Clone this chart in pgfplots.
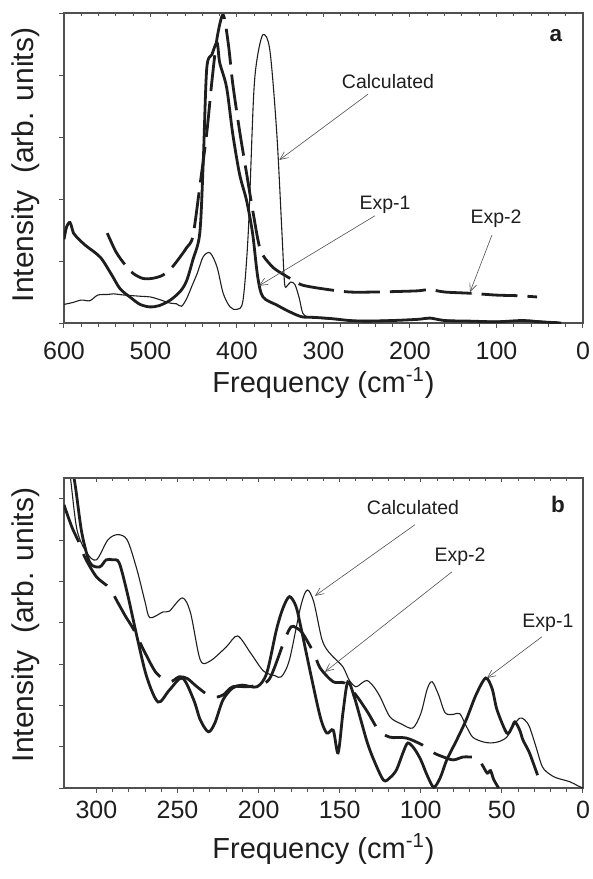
\documentclass[border=0pt]{standalone}
\usepackage{fontspec}
\setmainfont{Liberation Sans}
\usepackage{pgfplots}
\pgfplotsset{compat=1.18}
\usetikzlibrary{arrows.meta}
\definecolor{ink}{HTML}{1E1E1E}
\definecolor{axc}{HTML}{505050}
\pgfplotsset{
 panel/.style={scale only axis, width=259.5pt, height=155pt, x dir=reverse, ymin=0,
   axis line style={axc, line width=0.55pt}, tick style={axc, line width=0.5pt},
   tick align=outside, xtick pos=bottom, ytick pos=left, yticklabels={},
   major tick length=2.4pt, minor tick length=1.8pt,
   /pgf/number format/assume math mode=true,
   xticklabel style={font=\fontsize{12.5}{14}\selectfont, anchor=base, text=ink},
   clip=true},
 topticks/.style={scale only axis, width=259.5pt, height=155pt, x dir=reverse, ymin=0,
   axis x line*=top, hide y axis, tick align=inside, xticklabels={},
   axis line style={axc, line width=0.55pt}, tick style={axc, line width=0.5pt},
   major tick length=2pt, minor tick length=1.6pt},
 calc/.style={ink, line width=0.55pt, smooth, no markers},
 expa/.style={ink, line width=1.4pt, smooth, no markers},
 expb/.style={ink, line width=1.4pt, smooth, no markers},
}
\tikzset{
 ann/.style={font=\fontsize{9.75}{11}\selectfont, inner sep=0pt, text=ink},
 arr/.style={axc, line width=0.3pt, -{Straight Barb[length=4pt,width=3.6pt,line width=0.3pt]}},
}
\begin{document}
\begin{tikzpicture}
% ---------------- panel a ----------------
\begin{axis}[panel, at={(32pt,-161.5pt)}, anchor=south west,
  xmin=0, xmax=600, ymax=5, xtick={0,100,...,600}, minor x tick num=4,
  ytick={0,1,...,5}, xticklabel style={yshift=-16pt}]
\addplot[calc] coordinates {
(600,0.30) (590,0.33) (580,0.37) (570,0.36) (561,0.45) (550,0.46) (543,0.47)
(530,0.45) (520,0.44) (510,0.43) (500,0.42) (490,0.38) (477,0.32) (470,0.31)
(464,0.27) (458,0.40) (452,0.60) (446,0.80) (439,1.07) (431,1.13) (423,0.90)
(416,0.48) (408,0.26) (400,0.22) (393,0.37) (387,1.45) (381,3.6) (377,4.24)
(370,4.65) (362,4.4) (354,3.06) (348,1.45) (345,0.64) (342,0.60) (338,0.66)
(333,0.62) (328,0.40) (324,0.16) (318,0.10) (300,0.07) (280,0.05) (250,0.04)
(220,0.05) (190,0.06) (175,0.07) (150,0.04) (120,0.03) (90,0.03) (60,0.04) (40,0.02) (30,0.02)};
\addplot[expa] coordinates {
(600,1.35) (597,1.55) (593,1.62) (589,1.45) (585,1.38) (575,1.25) (558,1.06)
(545,0.78) (535,0.55) (522,0.40) (512,0.30) (501,0.26) (490,0.28) (477,0.37)
(465,0.52) (458,0.69) (451,1.02) (443,1.45) (439,2.6) (435,4.1) (429,4.33)
(423,4.52) (420,4.2) (412,3.8) (405,3.06) (397,2.4) (389,1.98) (382,1.45)
(376,0.74) (370,0.42) (354,0.29) (339,0.18) (325,0.10) (310,0.09) (290,0.07)
(270,0.04) (250,0.03) (220,0.04) (190,0.06) (177,0.08) (160,0.04) (130,0.03)
(100,0.02) (70,0.04) (50,0.02) (25,0.0)};
\addplot[expb, dash pattern=on 18pt off 5pt] coordinates {
(550,1.45) (540,1.15) (530,0.95) (520,0.80) (509,0.72) (498,0.72) (486,0.77)
(475,0.90) (465,1.08) (458,1.22) (451,1.40) (443,2.2) (435,3.06) (429,3.9)
(423,4.6) (416,4.97) (410,4.5) (405,3.87) (397,3.1) (389,2.42) (381,1.75)
(373,1.18) (362,0.95) (354,0.85) (335,0.69) (324,0.61) (300,0.55) (270,0.50)
(240,0.50) (210,0.51) (190,0.52) (177,0.54) (160,0.50) (131,0.48) (100,0.45)
(75,0.44) (53,0.42)};
\node[ann] at (axis cs:225.4,3.9) {Calculated};
\draw[arr] (axis cs:248.6,3.69) -- (axis cs:351,2.63);
\node[ann] at (axis cs:228.9,1.9) {Exp-1};
\draw[arr] (axis cs:240.5,1.73) -- (axis cs:374.6,0.6);
\node[ann] at (axis cs:100.6,1.69) {Exp-2};
\draw[arr] (axis cs:105.2,1.42) -- (axis cs:130.6,0.5);
\node[font=\fontsize{11.25}{12}\selectfont\bfseries, text=ink] at (axis cs:31.2,4.63) {a};
\end{axis}
\begin{axis}[topticks, at={(32pt,-161.5pt)}, anchor=south west,
  xmin=0, xmax=600, ymax=5, xtick={0,100,...,600}, minor x tick num=4]
\end{axis}
% ---------------- panel b ----------------
\begin{axis}[panel, at={(32pt,-394pt)}, anchor=south west,
  xmin=0, xmax=320, ymax=7.5, xtick={0,50,...,300}, minor x tick num=4,
  ytick={0,1,...,7}, xticklabel style={yshift=-13pt}]
\addplot[calc] coordinates {
(319,8.4) (316,7.5) (312,6.25) (306,5.69) (300,5.52) (293,6.0) (287,6.13)
(281,6.0) (275,5.28) (270,4.5) (267,4.12) (259,4.26) (255,4.28) (247,4.6)
(242,4.24) (236,3.1) (230,3.07) (220,3.41) (213,3.68) (205,3.27) (197,2.83)
(190,2.72) (186,2.69) (181,3.1) (174,4.4) (170,4.79) (166,4.5) (161,3.6)
(157,3.3) (154,3.17) (148,2.93) (144,2.6) (140,2.45) (136,2.55) (133,2.6)
(129,2.45) (125,2.2) (119,1.72) (112,1.55) (105,1.45) (100,1.8) (96,2.4)
(93,2.57) (89,2.25) (85,1.82) (80,1.78) (76,1.8) (72,1.5) (68,1.23) (62,1.12)
(57,1.09) (52,1.12) (47,1.23) (43,1.5) (39,1.69) (36,1.65) (33,1.48) (29,1.0)
(25,0.51) (20,0.32) (16,0.24) (8,0.15) (3,0.05) (0,0)};
\addplot[expa] coordinates {
(318,8.5) (313,7.3) (309,6.17) (304,5.45) (298,5.35) (294,5.52) (290,5.52)
(286,5.45) (281,4.72) (275,3.66) (269,2.69) (262,2.08) (255,2.37) (247,2.66)
(240,2.13) (236,1.65) (231,1.36) (227,1.57) (222,2.13) (216,2.42) (210,2.49)
(201,2.45) (195,2.78) (189,3.83) (185,4.35) (181,4.63) (177,4.4) (174,3.9)
(168,2.78) (162,1.72) (158,1.33) (154,1.4) (151,0.85) (148,1.82) (145,2.57)
(141,2.2) (137,1.65) (133,1.1) (129,0.68) (123,0.19) (119,0.25) (115,0.44)
(111,0.85) (108,1.09) (104,0.95) (100,0.68) (96,0.3) (92,0.02) (88,0.25)
(84,0.68) (78,1.15) (72,1.65) (66,2.25) (60,2.66) (56,2.4) (53,1.89) (47,1.33)
(44,1.45) (42,1.6) (39,1.4) (37,1.16) (33,0.85) (28,0.31)};
\addplot[expb, dash pattern=on 20pt off 6.5pt] coordinates {
(320,6.85) (315,6.3) (310,5.88) (307,5.57) (300,5.11) (292,4.84) (287,4.5)
(282,4.15) (277,3.83) (270,3.27) (263,2.78) (255,2.57) (249,2.69) (244,2.65)
(238,2.45) (229,2.2) (222,2.25) (216,2.45) (207,2.45) (200,2.5) (193,2.66)
(184,3.58) (180,3.9) (177,3.88) (173,3.75) (166,3.27) (162,2.9) (154,2.57)
(147,2.54) (140,2.25) (133,1.85) (126,1.4) (119,1.23) (109,1.21) (99,1.04)
(92,0.85) (86,0.75) (80,0.68) (74,0.75) (70,0.75) (65,0.73) (62,0.55) (59,0.36)
(57,0.42) (55,0.2) (52,0)};
\node[ann] at (axis cs:104.8,6.78) {Calculated};
\draw[arr] (axis cs:103.6,6.37) -- (axis cs:165.2,4.65);
\node[ann] at (axis cs:75.8,5.59) {Exp-2};
\draw[arr] (axis cs:80.8,5.23) -- (axis cs:159.1,2.81);
\node[ann] at (axis cs:21.6,4.0) {Exp-1};
\draw[arr] (axis cs:25.3,3.66) -- (axis cs:59.2,2.66);
\node[font=\fontsize{11.25}{12}\selectfont\bfseries, text=ink] at (axis cs:15.4,6.85) {b};
\end{axis}
\begin{axis}[topticks, at={(32pt,-394pt)}, anchor=south west,
  xmin=0, xmax=320, ymax=7.5, xtick={0,50,...,300}, minor x tick num=4]
\end{axis}
% labels
\node[rotate=90, anchor=base, font=\fontsize{15}{17}\selectfont, text=ink] at (16.5pt,-82.5pt) {Intensity\ \ (arb. units)};
\node[rotate=90, anchor=base, font=\fontsize{15}{17}\selectfont, text=ink] at (16.5pt,-312.5pt) {Intensity\ \ (arb. units)};
\node[anchor=base, font=\fontsize{14.5}{16}\selectfont, text=ink] at (161.75pt,-196pt) {Frequency (cm\textsuperscript{-1})};
\node[anchor=base, font=\fontsize{14.5}{16}\selectfont, text=ink] at (161.75pt,-429pt) {Frequency (cm\textsuperscript{-1})};
\pgfresetboundingbox
\useasboundingbox (0,0) rectangle (296.5pt,-439.5pt);
\end{tikzpicture}
\end{document}
